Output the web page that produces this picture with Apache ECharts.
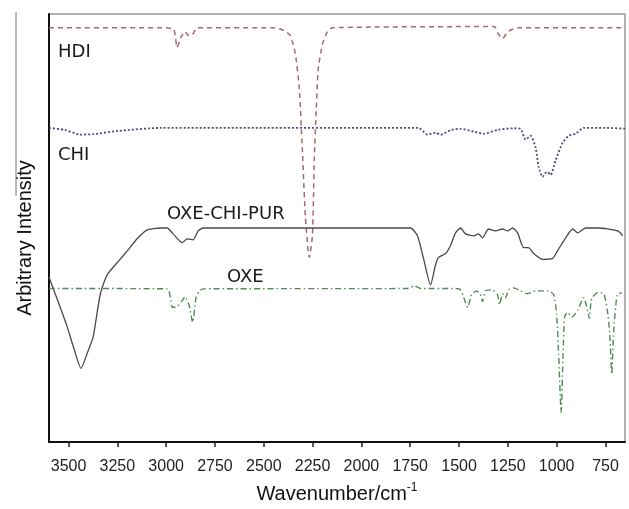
<!DOCTYPE html>
<html>
<head>
<meta charset="utf-8">
<title>FTIR spectra</title>
<script src="https://cdn.jsdelivr.net/npm/echarts@6.0.0/dist/echarts.min.js"></script>
<style>
  html, body { margin: 0; padding: 0; background: #fff; }
  #chart { width: 629px; height: 509px; }
</style>
</head>
<body>
<div id="chart"></div>
<script>
// wavenumber (cm-1), arbitrary intensity
var hdiPoints = [
    [3600, 105.5], [3000, 105.5], [2960, 105], [2944, 100.5], [2925, 103], [2903, 104.5],
    [2885, 103.5], [2872, 103.5], [2850, 105], [2841, 105.5], [2450, 105.5], [2405, 105],
    [2364, 103.5], [2338, 98.75], [2318, 90], [2303, 75], [2287, 57.5], [2267, 47],
    [2251, 52.5], [2241, 72.5], [2231, 85], [2221, 95], [2200, 101.25], [2174, 104.5],
    [2149, 105.5], [1320, 105.8], [1300, 104], [1277, 102.75], [1250, 104.5], [1200, 105.5],
    [650, 105.5]
];
var chiPoints = [
    [3600, 80], [3520, 79.5], [3441, 78.3], [3374, 78.4], [3250, 79.2], [3031, 80],
    [1708, 80], [1662, 78.3], [1620, 78.8], [1595, 78.25], [1540, 79.5], [1492, 79.75],
    [1420, 79], [1374, 78.5], [1300, 79.5], [1221, 79.9], [1185, 79.75], [1159, 77],
    [1133, 78], [1108, 75], [1092, 70], [1072, 67.5], [1058, 68.5], [1046, 68.75],
    [1031, 68], [1005, 71.75], [969, 76.25], [938, 78], [903, 78.5], [862, 80],
    [750, 80], [650, 79.8]
];
var purPoints = [
    [3600, 42], [3544, 34.5], [3508, 29.5], [3472, 23.75], [3436, 18.75], [3405, 22.5],
    [3374, 26.75], [3338, 37.5], [3303, 42.5], [3236, 46.5], [3185, 49.5], [3149, 51.75],
    [3097, 54], [3031, 54.5], [2995, 54.5], [2964, 53], [2918, 50.75], [2892, 51.75],
    [2862, 51.5], [2836, 53.75], [2810, 54.5], [1749, 54.5], [1713, 52.5], [1682, 46.75],
    [1646, 40], [1621, 45], [1605, 47], [1569, 48], [1544, 50], [1518, 53.25],
    [1492, 54.5], [1467, 53], [1426, 52.5], [1400, 53], [1380, 52], [1349, 54.25],
    [1313, 53.75], [1277, 54.25], [1251, 53.75], [1226, 54.5], [1200, 53.25], [1169, 49.5],
    [1144, 49.5], [1118, 48], [1072, 46.5], [1021, 46.75], [995, 48.75], [954, 52],
    [918, 54.25], [892, 53.25], [851, 54.5], [790, 54.5], [738, 54.25], [687, 53.75],
    [662, 52.5]
];
var oxePoints = [
    [3600, 39.1], [2995, 39], [2975, 36], [2969, 34.25], [2944, 34.5], [2918, 36],
    [2903, 37], [2882, 34.75], [2864, 30.5], [2846, 37], [2825, 38.6], [2810, 39],
    [1760, 39.1], [1728, 39.75], [1697, 39.1], [1518, 39.1], [1492, 38.75], [1472, 36.25],
    [1456, 34.25], [1436, 37.5], [1410, 38.5], [1390, 37.5], [1380, 35.75], [1364, 38.5],
    [1328, 38.75], [1303, 37.5], [1292, 35], [1277, 37.75], [1262, 36.75], [1246, 38.75],
    [1221, 39.25], [1185, 38.5], [1149, 37.75], [1108, 38.5], [1041, 38.5], [1015, 37.5],
    [1000, 32.5], [990, 22.5], [977, 7.5], [967, 22.5], [959, 32], [944, 33],
    [923, 31.75], [892, 33.5], [862, 36.75], [846, 34.5], [833, 31.5], [821, 36.5],
    [790, 38], [759, 37.75], [741, 33.75], [728, 27.5], [718, 17.25], [708, 28.25],
    [690, 37.5], [667, 38]
];
var xTicks = [3500, 3250, 3000, 2750, 2500, 2250, 2000, 1750, 1500, 1250, 1000, 750];
var seriesNames = ['HDI', 'CHI', 'OXE-CHI-PUR', 'OXE'];

var myChart = echarts.init(document.getElementById('chart'), null, {renderer: 'canvas'});

function spectrum(name, points, color, type, width) {
    return {
        name: name,
        type: 'line',
        data: points,
        symbol: 'none',
        smooth: 0.2,
        lineStyle: {color: color, type: type, width: width},
        silent: true
    };
}

var labelFont = '18px "DejaVu Sans", sans-serif';

var option = {
    animation: false,
    backgroundColor: '#fff',
    grid: {
        left: 49, right: 4, top: 14, bottom: 59,
        show: true, borderColor: '#666', borderWidth: 1
    },
    xAxis: {
        type: 'value',
        min: 650,
        max: 3600,
        inverse: true,
        name: '{a|Wavenumber/cm}{s|-1}',
        nameLocation: 'middle',
        nameGap: 40,
        nameTextStyle: {
            rich: {
                a: {fontFamily: '"Liberation Sans", Arial', fontSize: 20, color: '#111', lineHeight: 24},
                s: {fontFamily: '"Liberation Sans", Arial', fontSize: 12, color: '#111', verticalAlign: 'top', lineHeight: 12}
            }
        },
        axisLine: {show: true, lineStyle: {color: '#111', width: 2}},
        axisTick: {show: true, inside: false, length: 5, customValues: xTicks, lineStyle: {color: '#222', width: 1.5}},
        axisLabel: {
            customValues: xTicks,
            margin: 17,
            fontFamily: '"Liberation Sans", Arial',
            fontSize: 16,
            color: '#222',
            formatter: function (v) { return String(v); }
        },
        splitLine: {show: false}
    },
    yAxis: {
        type: 'value',
        min: 0,
        max: 109,
        axisLine: {show: true, lineStyle: {color: '#111', width: 2}},
        axisTick: {show: false},
        axisLabel: {show: false},
        splitLine: {show: false}
    },
    series: [
        spectrum(seriesNames[0], hdiPoints, '#a5686c', [5, 4], 1.5),
        spectrum(seriesNames[1], chiPoints, '#4c4c85', [2, 2], 1.8),
        spectrum(seriesNames[2], purPoints, '#4a4a4a', 'solid', 1.3),
        spectrum(seriesNames[3], oxePoints, '#4f8a4f', [6, 3, 1.5, 3], 1.4)
    ],
    graphic: [
        {type: 'text', x: 58, y: 52, style: {text: seriesNames[0], font: labelFont, fill: '#1a1a1a', align: 'left', verticalAlign: 'middle'}},
        {type: 'text', x: 58, y: 155, style: {text: seriesNames[1], font: labelFont, fill: '#1a1a1a', align: 'left', verticalAlign: 'middle'}},
        {type: 'text', x: 167, y: 214, style: {text: seriesNames[2], font: labelFont, fill: '#1a1a1a', align: 'left', verticalAlign: 'middle'}},
        {type: 'text', x: 227, y: 277, style: {text: seriesNames[3], font: labelFont, fill: '#1a1a1a', align: 'left', verticalAlign: 'middle'}},
        {
            type: 'text', x: 25, y: 238, rotation: Math.PI / 2,
            style: {text: 'Arbitrary Intensity', font: '20px "Liberation Sans", Arial', fill: '#111', align: 'center', verticalAlign: 'middle'}
        },
        // thin stray rule left of the title in the original scan
        {type: 'line', shape: {x1: 16, y1: 12, x2: 16, y2: 196}, style: {stroke: '#777', lineWidth: 1}}
    ]
};

myChart.setOption(option);
</script>
</body>
</html>
